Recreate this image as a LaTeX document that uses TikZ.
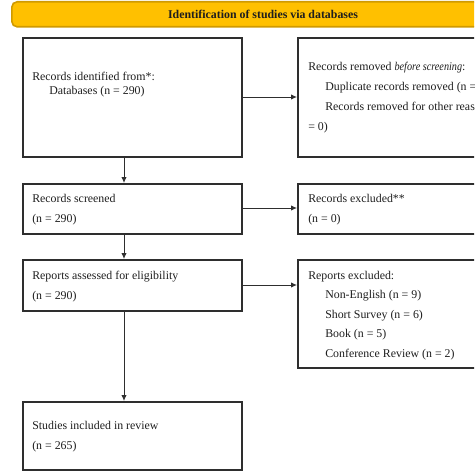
\documentclass[tikz,border=0pt]{standalone}
\usepackage{fontspec}
\setmainfont{Liberation Serif}
\usetikzlibrary{arrows.meta}
\definecolor{banfill}{HTML}{FFC000}
\definecolor{banline}{HTML}{D09A00}
\definecolor{boxline}{HTML}{2E2E2E}
\definecolor{txt}{HTML}{1E1E1E}
\tikzset{
  box/.style={draw=boxline, line width=1.3pt, anchor=north west, inner sep=0pt},
  lbl/.style={anchor=base west, inner sep=0pt, font=\fontsize{8.9}{10}\selectfont, text=txt},
  arr/.style={draw=boxline, line width=0.7pt, -{Latex[length=4.5pt,width=4pt]}},
}
\begin{document}
\begin{tikzpicture}[x=0.75pt,y=-0.75pt]
\useasboundingbox (0,0) rectangle (474,474);
\clip (0,0) rectangle (474,474);
% banner
\node[draw=banline, fill=banfill, line width=1.2pt, rounded corners=4pt, anchor=north west,
      minimum width=500*0.75pt, minimum height=25*0.75pt, inner sep=0pt] (ban) at (11,1) {};
\node[inner sep=0pt, font=\bfseries\fontsize{8.9}{10}\selectfont, text=txt] (bant) at (263,14) {Identification of studies via databases};
% boxes
\node[box, minimum width=219*0.75pt, minimum height=119*0.75pt] (b1) at (22,37) {};
\node[box, minimum width=220*0.75pt, minimum height=119*0.75pt] (b2) at (297,37) {};
\node[box, minimum width=219*0.75pt, minimum height=50*0.75pt] (b3) at (22,183) {};
\node[box, minimum width=220*0.75pt, minimum height=50*0.75pt] (b4) at (297,183) {};
\node[box, minimum width=219*0.75pt, minimum height=51*0.75pt] (b5) at (22,259) {};
\node[box, minimum width=220*0.75pt, minimum height=108*0.75pt] (b6) at (297,259) {};
\node[box, minimum width=219*0.75pt, minimum height=68*0.75pt] (b7) at (22,401) {};
% texts
\node[lbl] (t1a) at (32,81) {Records identified from*:};
\node[lbl] (t1b) at (49,95) {Databases (n = 290)};
\node[lbl] (t2a) at (308,71) {Records removed \scalebox{0.86}[1]{\textit{before screening}}:};
\node[lbl] (t2b) at (325,91) {Duplicate records removed (n = 0)};
\node[lbl] (t2c) at (325,111) {Records removed for other reasons (n};
\node[lbl] (t2d) at (308,131) {= 0)};
\node[lbl] (t3a) at (32,202) {Records screened};
\node[lbl] (t3b) at (32,222) {(n = 290)};
\node[lbl] (t4a) at (308,202) {Records excluded**};
\node[lbl] (t4b) at (308,222) {(n = 0)};
\node[lbl] (t5a) at (32,279) {Reports assessed for eligibility};
\node[lbl] (t5b) at (32,299) {(n = 290)};
\node[lbl] (t6a) at (308,279) {Reports excluded:};
\node[lbl] (t6b) at (325,298) {Non-English (n = 9)};
\node[lbl] (t6c) at (325,318) {Short Survey (n = 6)};
\node[lbl] (t6d) at (325,337) {Book (n = 5)};
\node[lbl] (t6e) at (325,357) {Conference Review (n = 2)};
\node[lbl] (t7a) at (32,429) {Studies included in review};
\node[lbl] (t7b) at (32,449) {(n = 265)};
% connectors
\coordinate (ax) at (124,0);
\draw[arr] (b1.south -| ax) -- (b3.north -| ax);
\draw[arr] (b3.south -| ax) -- (b5.north -| ax);
\draw[arr] (b5.south -| ax) -- (b7.north -| ax);
\coordinate (ay1) at (0,97);
\coordinate (ay3) at (0,208);
\coordinate (ay5) at (0,285);
\draw[arr] (b1.east |- ay1) -- (b2.west |- ay1);
\draw[arr] (b3.east |- ay3) -- (b4.west |- ay3);
\draw[arr] (b5.east |- ay5) -- (b6.west |- ay5);
\end{tikzpicture}
\end{document}
